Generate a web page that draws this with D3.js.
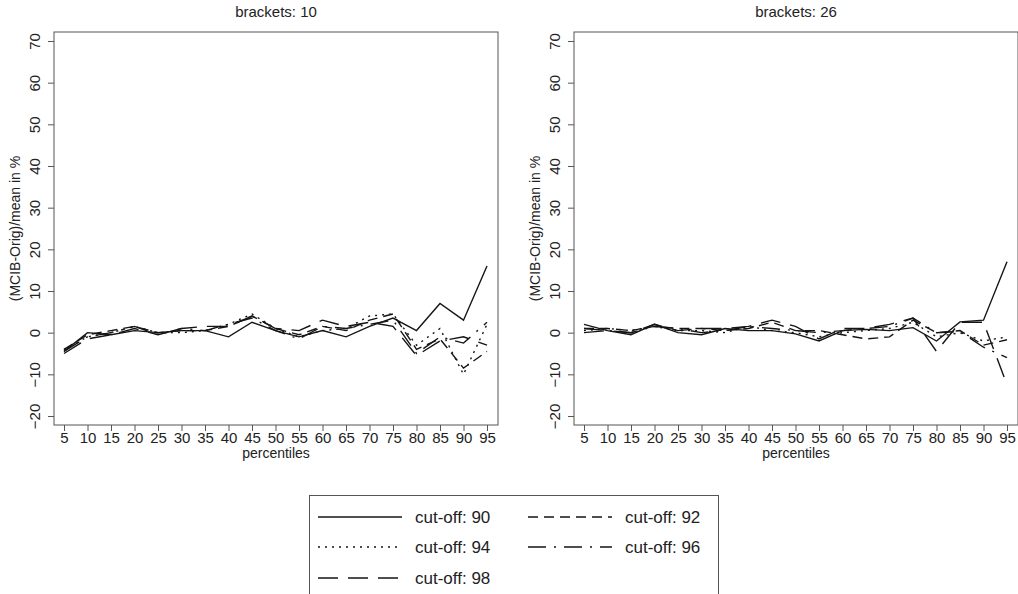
<!DOCTYPE html>
<html>
<head>
<meta charset="utf-8">
<script src="https://cdn.jsdelivr.net/npm/d3@7"></script>
<style>
  body { margin: 0; background: #fff; }
  svg { font-family: "Liberation Sans", Arial, sans-serif; }
</style>
</head>
<body>
<svg id="chart" width="1018" height="594"></svg>
<script>
const width = 1018, height = 594;
const svg = d3.select("#chart");

// percentiles on the x axis
const percentiles = [5, 10, 15, 20, 25, 30, 35, 40, 45, 50, 55, 60, 65, 70, 75, 80, 85, 90, 95];
const yTicks = [-20, -10, 0, 10, 20, 30, 40, 50, 60, 70];
const cutoffs = ["cut-off: 90", "cut-off: 92", "cut-off: 94", "cut-off: 96", "cut-off: 98"];

// brackets: 10
const b10_cut90 = [-4.5, 0, -0.5, 0.5, 0, 0.5, 0.5, -1, 2.5, 0.5, -1, 0.5, -1, 1.5, 3.5, 0.5, 7, 3, 16];
const b10_cut92 = [-4, -0.5, 0.5, 1.5, 0, 0.5, 0.5, 1.5, 4, 1, -0.5, 1.5, 0.5, 3, 4.5, -4, -1.5, -8.5, -4.5];
const b10_cut94 = [-4, -1, 0, 1.5, 0, 0, 0.5, 2, 4.5, 1, -1, 0.5, 1, 4, 4.5, -3, 1, -10, 2];
const b10_cut96 = [-4.5, -1, 0, 1.5, -0.5, 1, 0.5, 2, 3.5, 0.5, -1.5, 1.5, 1, 2, 3, -5, -1, -2.5, 2.5];
const b10_cut98 = [-5, -1.5, -0.5, 1, -0.5, 1, 1.5, 1.5, 4, 1, 0.5, 3, 1.5, 2.5, 1.5, -5.5, -2, -1, -3];

// brackets: 26
const b26_cut90 = [2, 0.5, -0.5, 2, 0, -0.5, 1, 0.5, 0.5, -0.3, -2, 0.5, 0.8, 0.5, 1.2, -2, 2.6, 3, 17];
const b26_cut92 = [1, 1, 0.5, 1.5, 1, 1, 0.5, 1, 2.5, 0.5, 0.5, -0.5, -1.5, -1, 3, 0, 0.5, -3, -1.7];
const b26_cut94 = [0.5, 1, 0.5, 1.5, 0.5, 0.5, 0, 1.5, 0.5, 0, -1, 0, 0.5, 1, 2.5, -1, 0, -2, -1];
const b26_cut96 = [1, 0.5, 0, 1.5, 1, 0, 0.5, 1.5, 1, 0.5, 0, 0.5, 1, 1.5, 3.5, 0, 0.3, -3.5, -6];
const b26_cut98 = [0, 0.5, 0, 2, 0.5, 1, 1, 1.5, 3, 1.5, -1.5, 1, 1, 2, 3.5, -4.5, 2.5, 2.5, -12.5];

const panels = [
  { title: "brackets: 10", left: 54, series: [b10_cut90, b10_cut92, b10_cut94, b10_cut96, b10_cut98] },
  { title: "brackets: 26", left: 574, series: [b26_cut90, b26_cut92, b26_cut94, b26_cut96, b26_cut98] }
];

// line styles for the five cut-offs
const dashes = [null, "10,6", "2,5", "18,8,2,8", "20,10"];
const ink = "#151515";
const frame = "#555";

const boxW = 444, boxTop = 32, boxBottom = 425;

panels.forEach(p => {
  const g = svg.append("g");

  const x = d3.scaleLinear().domain([5, 95]).range([p.left + 10, p.left + 433]);
  const y = d3.scaleLinear().domain([-20, 70]).range([416, 41]);

  // frame
  g.append("rect")
    .attr("x", p.left).attr("y", boxTop)
    .attr("width", boxW).attr("height", boxBottom - boxTop)
    .attr("fill", "none").attr("stroke", frame).attr("stroke-width", 1);

  // y axis
  const ya = g.append("g")
    .attr("transform", `translate(${p.left},0)`)
    .call(d3.axisLeft(y).tickValues(yTicks).tickSize(6).tickFormat(d3.format("d")));
  ya.select(".domain").remove();
  ya.selectAll(".tick line").attr("stroke", frame);
  ya.selectAll(".tick text")
    .attr("font-size", 15).attr("fill", "#222")
    .attr("text-anchor", "middle")
    .attr("x", null).attr("dy", null)
    .attr("transform", "translate(-14,0) rotate(-90)");

  // x axis
  const xa = g.append("g")
    .attr("transform", `translate(0,${boxBottom})`)
    .call(d3.axisBottom(x).tickValues(percentiles).tickSize(6).tickFormat(d3.format("d")));
  xa.select(".domain").remove();
  xa.selectAll(".tick line").attr("stroke", frame);
  xa.selectAll(".tick text").attr("font-size", 15).attr("fill", "#222").attr("y", 7);

  // titles
  g.append("text")
    .attr("x", p.left + boxW / 2).attr("y", 17)
    .attr("text-anchor", "middle").attr("font-size", 15).attr("fill", "#222")
    .text(p.title);

  g.append("text")
    .attr("x", p.left + boxW / 2).attr("y", 458)
    .attr("text-anchor", "middle").attr("font-size", 14).attr("fill", "#222")
    .text("percentiles");

  g.append("text")
    .attr("transform", `translate(${p.left - 34},${(boxTop + boxBottom) / 2}) rotate(-90)`)
    .attr("text-anchor", "middle").attr("font-size", 14).attr("fill", "#222")
    .text("(MCIB-Orig)/mean in %");

  // series lines
  const line = d3.line().x((d, i) => x(percentiles[i])).y(d => y(d));
  p.series.forEach((s, k) => {
    g.append("path")
      .datum(s)
      .attr("d", line)
      .attr("fill", "none")
      .attr("stroke", ink)
      .attr("stroke-width", 1.4)
      .attr("stroke-dasharray", dashes[k]);
  });
});

// legend
const legend = svg.append("g");
legend.append("rect")
  .attr("x", 309.5).attr("y", 495.5)
  .attr("width", 409).attr("height", 110)
  .attr("fill", "none").attr("stroke", frame).attr("stroke-width", 1);

const legX = [318, 528], legTextX = [415, 625], legY = [517, 547, 578];
cutoffs.forEach((c, k) => {
  const col = k % 2, row = Math.floor(k / 2);
  legend.append("line")
    .attr("x1", legX[col]).attr("x2", legX[col] + 84)
    .attr("y1", legY[row]).attr("y2", legY[row])
    .attr("stroke", ink).attr("stroke-width", 1.4)
    .attr("stroke-dasharray", dashes[k]);
  legend.append("text")
    .attr("x", legTextX[col]).attr("y", legY[row] + 6)
    .attr("font-size", 17).attr("fill", "#222")
    .text(c);
});
</script>
</body>
</html>
